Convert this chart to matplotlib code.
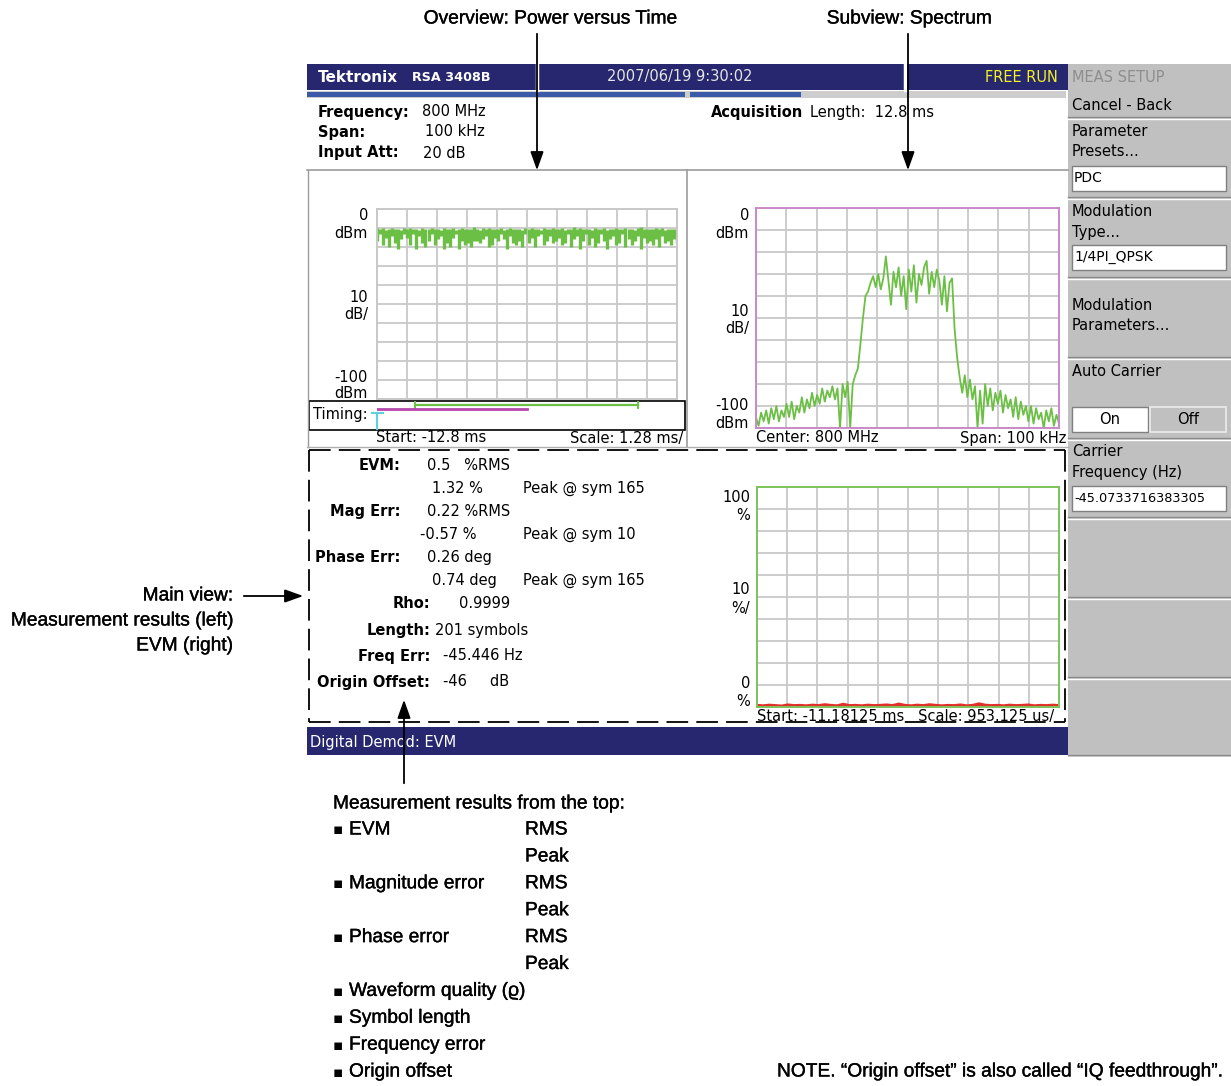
import matplotlib
matplotlib.use('Agg')
import matplotlib.pyplot as plt
import matplotlib.patheffects as pe
import numpy as np
from matplotlib.patches import Rectangle

W, H = 1231, 1086

# power versus time: per-column peak and floor of the trace (dBm)
pvt_peak_dbm = [
    -10.2, -10.6, -10.1, -10.8, -10.4, -10.0, -10.7, -10.3, -10.9, -10.2,
    -10.5, -9.8, -10.6, -10.3, -10.8, -10.1, -10.4, -10.7, -10.2, -10.5,
    -10.3, -10.9, -10.1, -10.6, -10.4, -10.2, -10.8, -10.5, -10.0, -10.7,
    -10.3, -10.6, -9.6, -10.4, -10.8, -10.2, -10.5, -10.1, -10.7, -10.3,
    -10.6, -10.2, -10.9, -10.4, -10.1, -10.7, -10.3, -10.5, -10.8, -10.2,
    -10.4, -10.1, -10.6, -10.3, -10.9, -10.2, -10.5, -10.7, -10.0, -10.4,
    -10.6, -10.2, -10.8, -10.3, -10.5, -9.7, -10.4, -10.1, -10.7, -10.3,
    -10.5, -10.9, -10.2, -10.6, -10.4, -10.1, -10.8, -10.3, -10.5, -10.2,
    -10.7, -10.4, -10.1, -10.6, -10.3, -10.8, -10.2, -9.5, -10.4, -10.6,
    -10.3, -10.7, -10.1, -10.5, -10.2, -10.8, -10.4, -10.6, -10.3, -10.5,
]
pvt_floor_dbm = [
    -17, -13, -19, -15, -20, -14, -18, -21, -16, -13,
    -15, -19, -13, -21, -14, -18, -20, -17, -13, -19,
    -16, -14, -21, -18, -20, -15, -13, -21, -17, -19,
    -18, -20, -17, -17, -18, -16, -14, -20, -19, -15,
    -17, -13, -16, -21, -14, -18, -19, -17, -20, -13,
    -18, -15, -20, -14, -13, -19, -17, -14, -18, -17,
    -15, -19, -18, -13, -20, -16, -14, -21, -17, -13,
    -19, -15, -20, -18, -13, -17, -21, -16, -14, -19,
    -18, -13, -20, -16, -19, -17, -14, -21, -15, -18,
    -17, -19, -16, -20, -14, -18, -17, -19, -16, -18,
]

# spectrum trace (dBm), 6 readings per 5 kHz from -50 kHz to +50 kHz
spec_dbm = [
    -95, -99, -93, -97, -92, -98,
    -91, -96, -90, -97, -92, -95,
    -89, -95, -88, -96, -90, -93,
    -86, -93, -87, -91, -84, -90,
    -85, -89, -82, -88, -83, -86,
    -81, -87, -82, -100, -80, -86,
    -79, -100, -80, -76, -73, -62,
    -50, -40, -38, -34, -31, -36,
    -30, -37, -32, -22, -33, -44,
    -29, -36, -27, -40, -31, -46,
    -28, -38, -26, -43, -30, -35,
    -27, -24, -39, -29, -36, -28,
    -33, -44, -31, -47, -34, -32,
    -55, -68, -77, -84, -76, -86,
    -78, -87, -81, -100, -83, -98,
    -80, -90, -82, -92, -84, -89,
    -83, -93, -85, -91, -87, -95,
    -86, -96, -88, -94, -90, -97,
    -90, -98, -91, -96, -93, -100,
    -92, -97, -91, -99, -94, -98,
]

# EVM versus symbol (%)
evm_pct = [
    0.6, 0.4, 0.7, 0.5, 0.3, 0.8, 0.5, 0.6, 0.4, 0.7,
    0.5, 0.9, 0.6, 0.4, 1.1, 0.5, 0.6, 0.4, 0.7, 0.5,
    0.6, 0.8, 0.5, 1.2, 0.6, 0.4, 0.7, 0.5, 0.9, 0.6,
    0.4, 0.6, 0.5, 0.8, 0.4, 0.6, 1.3, 0.7, 0.5, 0.6,
    0.4, 0.7, 0.5, 0.6, 0.8, 0.4, 0.6, 0.5, 0.7, 0.5,
]

results_rows = [
    ("EVM:", "0.5   %RMS", ""),
    ("", "1.32 %", "Peak @ sym 165"),
    ("Mag Err:", "0.22 %RMS", ""),
    ("", "-0.57 %", "Peak @ sym 10"),
    ("Phase Err:", "0.26 deg", ""),
    ("", "0.74 deg", "Peak @ sym 165"),
]
results_more = [
    ("Rho:", "0.9999"),
    ("Length:", "201 symbols"),
    ("Freq Err:", "-45.446 Hz"),
    ("Origin Offset:", "-46     dB"),
]
legend_items = [
    ("EVM", "RMS"), ("", "Peak"),
    ("Magnitude error", "RMS"), ("", "Peak"),
    ("Phase error", "RMS"), ("", "Peak"),
    ("Waveform quality (\u03f1)", ""),
    ("Symbol length", ""),
    ("Frequency error", ""),
    ("Origin offset", ""),
]

NAVY = '#27276f'
GREEN = '#6cbf45'
GRID = '#c8c8c8'
PANEL = '#c0c0c0'

SCR = dict(family=['DejaVu Sans'], fontsize=10.5, va='center')
ANN = dict(family=['Liberation Sans', 'DejaVu Sans'], fontsize=13.8, va='center',
           path_effects=[pe.withStroke(linewidth=0.25, foreground='black')])

fig = plt.figure(figsize=(W / 100, H / 100), dpi=100)
ov = fig.add_axes([0, 0, 1, 1])
ov.set_xlim(0, W)
ov.set_ylim(H, 0)
ov.axis('off')


def panel(x0, y0, x1, y1):
    return fig.add_axes([x0 / W, 1 - y1 / H, (x1 - x0) / W, (y1 - y0) / H])


def grid_axes(a, xlim, ylim, edge):
    a.set_xlim(*xlim)
    a.set_ylim(*ylim)
    a.set_xticks(np.linspace(xlim[0], xlim[1], 11))
    a.set_yticks(np.linspace(ylim[0], ylim[1], 11))
    a.grid(True, color=GRID, lw=1.3)
    a.set_axisbelow(True)
    a.tick_params(length=0, labelbottom=False, labelleft=False)
    for s in a.spines.values():
        s.set_color(edge)
        s.set_linewidth(1.4)


def box(x0, y0, x1, y1, fc, ec='none', lw=1.0, z=1):
    ov.add_patch(Rectangle((x0, y0), x1 - x0, y1 - y0, fc=fc, ec=ec, lw=lw, zorder=z))


# ---- header bar
box(307, 64, 1068, 90, NAVY)
for xs in (537, 905):
    ov.plot([xs, xs], [64, 90], color='white', lw=2.5)
ov.text(318, 77, "Tektronix", color='white', fontweight='bold', family=['DejaVu Sans'],
        fontsize=11, va='center')
ov.text(412, 77.5, "RSA 3408B", color='white', fontweight='bold', family=['DejaVu Sans'],
        fontsize=9.2, va='center')
ov.text(607, 77, "2007/06/19 9:30:02", color='#e6e6e6', **SCR)
ov.text(1058, 77, "FREE RUN", color='#f2f224', ha='right', **SCR)
box(307, 91, 1066, 98, '#cdcdcd')
box(307, 92, 685, 97, '#3b5aa8')
box(690, 92, 801, 97, '#3b5aa8')

# ---- acquisition info
for yy, lab, val, vx in [(112, "Frequency:", "800 MHz", 422), (132, "Span:", "100 kHz", 425),
                         (153, "Input Att:", "20 dB", 423)]:
    ov.text(318, yy, lab, fontweight='bold', **SCR)
    ov.text(vx, yy, val, **SCR)
ov.text(711, 112, "Acquisition", fontweight='bold', **SCR)
ov.text(810, 112, "Length:  12.8 ms", **SCR)

ov.plot([307, 1068], [170, 170], color='#9c9c9c', lw=1.2)
ov.plot([687, 687], [170, 447], color='#9c9c9c', lw=1.2)
ov.plot([308, 308], [170, 447], color='#9c9c9c', lw=1.0)
ov.plot([307, 1068], [447, 447], color='#b0b0b0', lw=1.0)

# ---- power versus time
pv = panel(377, 209, 677, 399)
grid_axes(pv, (-12.8, 0), (-100, 0), GRID)
pvt_x = np.linspace(-12.8, 0, len(pvt_floor_dbm))
pv.vlines(pvt_x, pvt_floor_dbm, pvt_peak_dbm, color=GREEN, lw=2.4)
for yy, t in [(216, "0"), (234, "dBm"), (297, "10"), (314, "dB/"), (377, "-100"), (394, "dBm")]:
    ov.text(368, yy, t, ha='right', **SCR)

# timing box
box(309, 401, 685, 430, 'white', ec='black', lw=1.2)
ov.text(313, 415, "Timing:", **SCR)
tm = panel(377, 401, 677, 430)
tm.set_xlim(-12.8, 0)
tm.set_ylim(0, 1)
tm.axis('off')
tm.patch.set_alpha(0)
tm.plot([-11.18125, -1.65], [0.86, 0.86], color=GREEN, lw=1.6)
tm.plot([-11.18125, -11.18125], [0.76, 0.96], color=GREEN, lw=1.4)
tm.plot([-1.65, -1.65], [0.76, 0.96], color=GREEN, lw=1.4)
tm.plot([-12.8, -6.4], [0.71, 0.71], color='#b448ad', lw=2.0)
tm.plot([-12.8, -12.8], [0.05, 0.58], color='#5fd0e0', lw=1.5, clip_on=False)
tm.plot([-13.0, -12.55], [0.58, 0.58], color='#5fd0e0', lw=1.5, clip_on=False)
ov.text(376, 438, "Start: -12.8 ms", **SCR)
ov.text(683, 438, "Scale: 1.28 ms/", ha='right', **SCR)

# ---- spectrum
sp = panel(756, 208, 1059, 428)
grid_axes(sp, (-50, 50), (-100, 0), '#c88ac8')
spec_khz = np.linspace(-50, 50, len(spec_dbm))
sp.plot(spec_khz, spec_dbm, color=GREEN, lw=1.3)
for yy, t in [(216, "0"), (234, "dBm"), (312, "10"), (329, "dB/"), (405, "-100"), (423, "dBm")]:
    ov.text(749, yy, t, ha='right', **SCR)
ov.text(756, 438, "Center: 800 MHz", **SCR)
ov.text(1066, 438, "Span: 100 kHz", ha='right', **SCR)

# ---- measurement results
y0 = 466
for i, (lab, val, peak) in enumerate(results_rows):
    yy = y0 + i * 22.8
    if lab:
        ov.text(400, yy, lab, ha='right', fontweight='bold', **SCR)
    vx = 420 if val.startswith('-') else (432 if lab == "" else 427)
    ov.text(vx, yy, val, **SCR)
    if peak:
        ov.text(523, yy, peak, **SCR)
for i, (lab, val) in enumerate(results_more):
    yy = 604 + i * 26
    ov.text(430, yy, lab, ha='right', fontweight='bold', **SCR)
    vx = 459 if lab == "Rho:" else (435 if lab == "Length:" else 443)
    ov.text(vx, yy, val, **SCR)

# ---- EVM plot
ev = panel(757, 487, 1059, 707)
grid_axes(ev, (0, 200), (0, 100), '#7dc35a')
evm_sym = np.linspace(0, 200, len(evm_pct))
ev.plot(evm_sym, evm_pct, color='#e0302a', lw=2.6, solid_capstyle='butt')
for yy, t in [(497, "100"), (515, "%"), (590, "10"), (608, "%/"), (683, "0"), (702, "%")]:
    ov.text(750, yy, t, ha='right', **SCR)
ov.text(757, 717, "Start: -11.18125 ms   Scale: 953.125 us/", **SCR)

# dashed main-view frame
dash = dict(color='black', lw=1.3, ls=(0, (12, 4.5)), zorder=5)
ov.plot([309, 1065], [450, 450], **dash)
ov.plot([309, 1065], [722, 722], **dash)
ov.plot([309, 309], [450, 722], **dash)
ov.plot([1065, 1065], [450, 722], **dash)

# bottom status bar
box(307, 727, 1068, 755, NAVY)
ov.text(310, 742, "Digital Demod: EVM", color='white', **SCR)

# ---- side menu
box(1068, 64, 1231, 757, PANEL)
for yy in (117, 197, 277, 357, 438, 517, 597, 677, 755):
    ov.plot([1068, 1231], [yy, yy], color='#8a8a8a', lw=1.0, zorder=2)
    ov.plot([1068, 1231], [yy + 1.5, yy + 1.5], color='white', lw=1.0, zorder=2)
ov.text(1072, 77, "MEAS SETUP", color='#8e8e8e', **SCR)
menu_lines = [(105, "Cancel - Back"), (131, "Parameter"), (152, "Presets..."),
              (211, "Modulation"), (232, "Type..."), (305, "Modulation"),
              (326, "Parameters..."), (371, "Auto Carrier"), (451, "Carrier"),
              (472, "Frequency (Hz)")]
for yy, t in menu_lines:
    ov.text(1072, yy, t, **SCR)
for (ya, yb, t) in [(166, 191, "PDC"), (245, 270, "1/4PI_QPSK"), (486, 511, "-45.0733716383305")]:
    box(1072, ya, 1226, yb, 'white', ec='#808080', lw=1.0, z=2)
    ov.text(1074, (ya + yb) / 2, t, zorder=3, family=['DejaVu Sans'], fontsize=10 if len(t) < 12 else 9.3,
            va='center')
box(1072, 407, 1148, 432, 'white', ec='#808080', lw=1.0, z=2)
box(1150, 407, 1226, 432, PANEL, ec='#ececec', lw=1.2, z=2)
ov.text(1110, 420, "On", ha='center', zorder=3, **SCR)
ov.text(1188, 420, "Off", ha='center', zorder=3, **SCR)

# ---- call-outs
arrow = dict(arrowstyle='-|>,head_length=0.7,head_width=0.25', color='black', lw=1.3,
             mutation_scale=16)
ov.text(550, 19, "Overview: Power versus Time", ha='center', **ANN)
ov.annotate('', xy=(537, 173), xytext=(537, 31), arrowprops=arrow)
ov.text(909, 19, "Subview: Spectrum", ha='center', **ANN)
ov.annotate('', xy=(908, 173), xytext=(908, 31), arrowprops=arrow)

for yy, t in [(596, "Main view:"), (621, "Measurement results (left)"), (646, "EVM (right)")]:
    ov.text(233, yy, t, ha='right', **ANN)
ov.annotate('', xy=(306, 596), xytext=(241, 596), arrowprops=arrow)

ov.annotate('', xy=(404, 697), xytext=(404, 786), arrowprops=arrow, zorder=6)
ov.text(333, 804, "Measurement results from the top:", **ANN)
for i, (item, kind) in enumerate(legend_items):
    yy = 830 + i * 26.9
    if item:
        ov.text(333, yy, "\u25aa", family=['DejaVu Sans'], fontsize=11, va='center')
        ov.text(349, yy, item, **ANN)
    if kind:
        ov.text(525, yy, kind, **ANN)

ov.text(777, 1072, "NOTE. \u201cOrigin offset\u201d is also called \u201cIQ feedthrough\u201d.", **ANN)

fig.savefig('out.png', dpi=100)
